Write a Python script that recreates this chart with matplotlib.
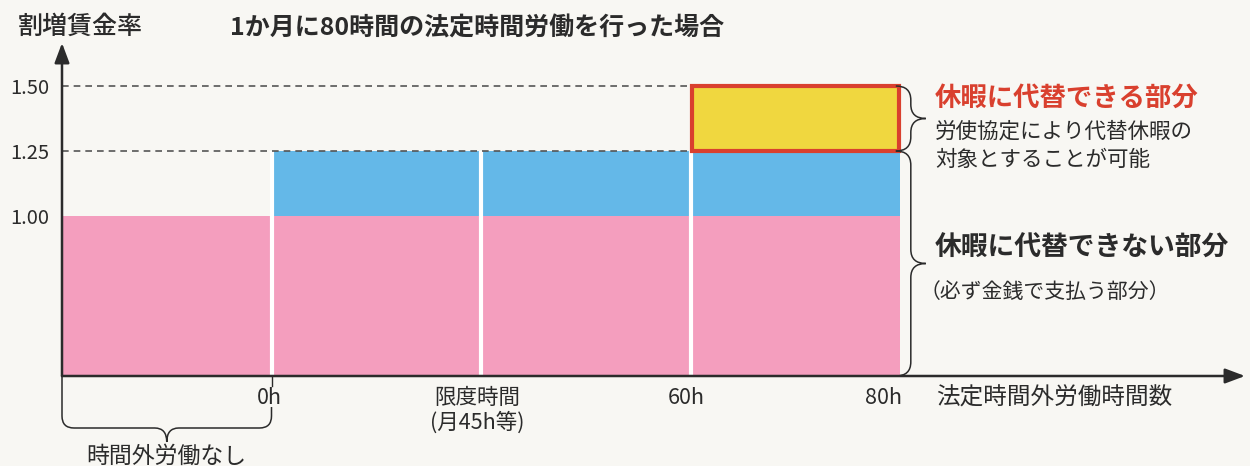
import matplotlib
matplotlib.use('Agg')
import matplotlib.pyplot as plt
from matplotlib.path import Path
from matplotlib.patches import PathPatch, Rectangle

plt.rcParams['font.family'] = ['Noto Sans CJK JP', 'DejaVu Sans']

# データ（区間ごとの割増賃金率）
segments = ['時間外労働なし', '0h〜限度時間', '限度時間〜60h', '60h〜80h']
base_rate = [1.00, 1.00, 1.00, 1.00]      # 通常賃金部分
extra_rate = [0.00, 0.25, 0.25, 0.25]     # 休暇に代替できない割増部分
sub_rate = [0.00, 0.00, 0.00, 0.25]       # 休暇に代替できる部分
boundary_labels = ['0h', '限度時間\n(月45h等)', '60h', '80h']
ytick_vals = [1.00, 1.25, 1.50]

BG = '#f8f7f3'
PINK = '#f49ebe'
BLUE = '#64b8e8'
YELLOW = '#f0d73f'
RED = '#d9402e'
DARK = '#2b2b2b'

fig = plt.figure(figsize=(12.5, 4.66), dpi=100, facecolor=BG)
W, H = 1250, 466
# 軸の位置（ピクセル基準）
x0_px, x1_px = 62, 1245
y0_px, y1_px = 376, 43
ax = fig.add_axes([x0_px / W, (H - y0_px) / H, (x1_px - x0_px) / W, (y0_px - y1_px) / H])
ax.set_facecolor(BG)

px_x = 1 / 209.5          # データ単位/px（横）
px_y = 0.25 / 65          # データ単位/px（縦）
ybase = 1.0 - (y0_px - 216) * px_y
xmax = (x1_px - x0_px) * px_x
ytop = 1.0 + (216 - y1_px) * px_y
ax.set_xlim(0, xmax)
ax.set_ylim(ybase, ytop)
for s in ax.spines.values():
    s.set_visible(False)

xs = list(range(len(segments)))
bottoms = [ybase] * len(segments)
h1 = [b - ybase for b in base_rate]
ax.bar(xs, h1, width=1.0, bottom=bottoms, align='edge', color=PINK, linewidth=0, zorder=2)
ax.bar(xs, extra_rate, width=1.0, bottom=base_rate, align='edge', color=BLUE, linewidth=0, zorder=2)
for i, v in enumerate(sub_rate):
    if v > 0:
        top = base_rate[i] + extra_rate[i]
        ax.add_patch(Rectangle((i + 0.006, top), 1 - 0.012, v, facecolor=YELLOW,
                               edgecolor=RED, linewidth=3, zorder=4))

# 区切りの白線
for i in range(1, len(segments)):
    ax.vlines(i, ybase, base_rate[i] + extra_rate[i], color='white', linewidth=3, zorder=3)

# 破線
n = len(segments)
for v in ytick_vals[1:]:
    ax.hlines(v, 0, n, color='#555555', linewidth=1.2, linestyles=(0, (4, 3)), zorder=3.5)

# 軸の矢印
arr = dict(arrowstyle='-|>,head_length=1.2,head_width=0.45', color=DARK, lw=1.8, shrinkA=0, shrinkB=0)
ax.annotate('', xy=(xmax, ybase), xytext=(0, ybase), arrowprops=arr, annotation_clip=False, zorder=6)
ax.annotate('', xy=(0, ytop), xytext=(0, ybase), arrowprops=arr, annotation_clip=False, zorder=6)

# y目盛
ax.set_yticks(ytick_vals)
ax.set_yticklabels([f'{v:.2f}' for v in ytick_vals], fontsize=14.5, color=DARK)
ax.tick_params(axis='y', length=0, pad=9)
ax.set_xticks([])

# x目盛ラベル
offs = [-0.01, -0.02, -0.02, -0.08]
for i, lab in enumerate(boundary_labels):
    ax.text(i + 1 + offs[i], ybase - 11 * px_y, lab, ha='center', va='top', fontsize=15.5,
            color=DARK, linespacing=1.15)
ax.plot([1, 1], [ybase, ybase - 10 * px_y], color=DARK, lw=1, clip_on=False)
ax.text(4.17, ybase - 11 * px_y, '法定時間外労働時間数', ha='left', va='top', fontsize=17, color=DARK)


def brace_v(x, y1, y2, w, r):
    # 右向きの波括弧（y1が上）
    xm = x + w / 2
    ym = (y1 + y2) / 2
    verts = [(x, y1), (xm, y1), (xm, y1 - r),
             (xm, ym + r), (xm, ym), (x + w, ym),
             (xm, ym), (xm, ym - r),
             (xm, y2 + r), (xm, y2), (x, y2)]
    codes = [Path.MOVETO, Path.CURVE3, Path.CURVE3,
             Path.LINETO, Path.CURVE3, Path.CURVE3,
             Path.CURVE3, Path.CURVE3,
             Path.LINETO, Path.CURVE3, Path.CURVE3]
    ax.add_patch(PathPatch(Path(verts, codes), fill=False, edgecolor=DARK, lw=1.1,
                           clip_on=False, zorder=5))


def brace_h(xa, xb, ya, yb, yh, ytip, rx, ry):
    # 下向きの波括弧
    xm = (xa + xb) / 2
    verts = [(xa, ya), (xa, yh + ry), (xa, yh), (xa + rx, yh),
             (xm - rx, yh), (xm, yh), (xm, ytip),
             (xm, yh), (xm + rx, yh),
             (xb - rx, yh), (xb, yh), (xb, yh + ry), (xb, yb)]
    codes = [Path.MOVETO, Path.LINETO, Path.CURVE3, Path.CURVE3,
             Path.LINETO, Path.CURVE3, Path.CURVE3,
             Path.CURVE3, Path.CURVE3,
             Path.LINETO, Path.CURVE3, Path.CURVE3, Path.LINETO]
    ax.add_patch(PathPatch(Path(verts, codes), fill=False, edgecolor=DARK, lw=1.1,
                           clip_on=False, zorder=5))


top_all = base_rate[-1] + extra_rate[-1] + sub_rate[-1]
mid = base_rate[-1] + extra_rate[-1]
brace_v(n - 0.02, top_all, mid, 30 * px_x, 14 * px_y)
brace_v(n - 0.02, mid, ybase, 30 * px_x, 14 * px_y)
brace_h(0, 1, ybase, ybase - 31 * px_y, ybase - 52 * px_y, ybase - 66 * px_y, 12 * px_x, 12 * px_y)

ax.text(0.5, ybase - 69 * px_y, '時間外労働なし', ha='center', va='top', fontsize=16.5, color=DARK)

# 右側の説明
tx = n + 35 * px_x
ax.text(tx, (top_all + mid) / 2 + 20 * px_y, '休暇に代替できる部分', ha='left', va='center',
        fontsize=19, fontweight='bold', color=RED)
ax.text(tx, mid + 5 * px_y, '労使協定により代替休暇の\n対象とすることが可能', ha='left', va='center',
        fontsize=15.5, color=DARK, linespacing=1.4)
ax.text(tx, (mid + ybase) / 2 + 16 * px_y, '休暇に代替できない部分', ha='left', va='center',
        fontsize=19.3, fontweight='bold', color=DARK)
ax.text(tx - 15 * px_x, (mid + ybase) / 2 - 28 * px_y, '（必ず金銭で支払う部分）', ha='left', va='center',
        fontsize=15, color=DARK)

# タイトル
fig.text(18 / W, 1 - 27 / H, '割増賃金率', ha='left', va='center', fontsize=18,
         fontweight='medium', color=DARK)
fig.text(230 / W, 1 - 28 / H, '1か月に80時間の法定時間労働を行った場合', ha='left', va='center',
         fontsize=18, fontweight='bold', color=DARK)

fig.savefig('out.png', dpi=100, facecolor=BG)
